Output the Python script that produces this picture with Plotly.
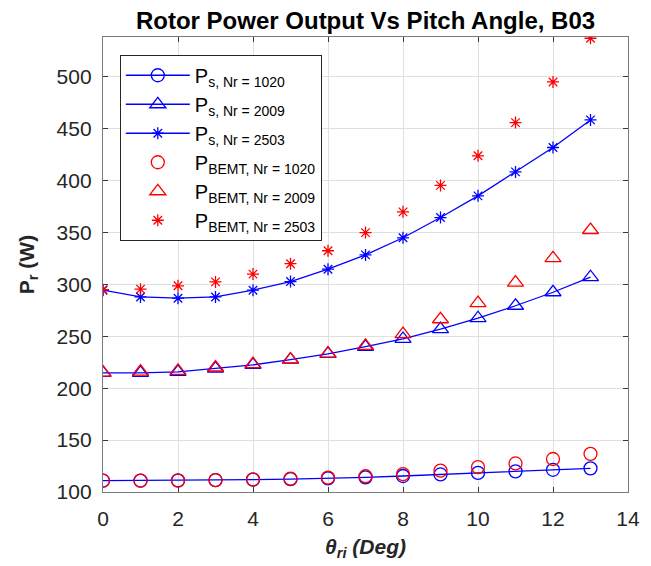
import plotly.graph_objects as go

theta = list(range(0, 14))

ps_1020 = [110.9, 111.0, 111.2, 111.5, 111.9, 112.4, 113.1, 114.1, 115.4, 116.9, 118.4, 119.9, 121.4, 122.8]
ps_2009 = [214.8, 214.8, 215.8, 219.0, 222.5, 227.5, 233.2, 240.0, 247.5, 257.0, 267.5, 279.5, 292.5, 307.0]
ps_2503 = [294.5, 288.0, 286.8, 288.0, 294.5, 302.8, 314.7, 328.5, 345.0, 364.5, 385.4, 408.5, 432.0, 458.6]

pb_1020 = [110.9, 110.9, 111.0, 111.5, 112.2, 112.9, 113.9, 115.2, 117.2, 120.6, 124.0, 127.5, 131.8, 136.8]
pb_2009 = [215.0, 216.1, 216.8, 220.0, 223.2, 227.7, 233.4, 240.8, 252.1, 266.5, 282.0, 301.8, 325.3, 352.5]
pb_2503 = [295.0, 295.5, 298.7, 302.5, 310.0, 320.0, 332.5, 350.0, 370.0, 395.5, 424.0, 456.0, 495.2, 537.3]

names_s = ["1020", "2009", "2503"]
x_ticks = [0, 2, 4, 6, 8, 10, 12, 14]
y_ticks = [100, 150, 200, 250, 300, 350, 400, 450, 500]

BLUE = "#0000ff"
RED = "#ff0000"
FONT = "Liberation Sans, Arial, sans-serif"

symbols = ["circle-open", "triangle-up-open", "asterisk-open"]
sizes = [13, 14, 10]

def lbl(sub, n):
    return "P<sub>%s, Nr = %s</sub>" % (sub, n)

fig = go.Figure()
for i, (ys, n) in enumerate(zip([ps_1020, ps_2009, ps_2503], names_s)):
    fig.add_trace(go.Scatter(
        x=theta, y=ys, mode="lines+markers", name=lbl("s", n),
        legendgroup="s%d" % i,
        line=dict(color=BLUE, width=1.3),
        marker=dict(symbol=symbols[i], size=sizes[i], color=BLUE,
                    line=dict(color=BLUE, width=1.3)),
    ))
for i, (ys, n) in enumerate(zip([pb_1020, pb_2009, pb_2503], names_s)):
    fig.add_trace(go.Scatter(
        x=theta, y=ys, mode="markers", name=lbl("BEMT", n),
        legendgroup="b%d" % i,
        marker=dict(symbol=symbols[i], size=sizes[i], color=RED,
                    line=dict(color=RED, width=1.3)),
    ))

axis_common = dict(
    showline=True, linecolor="#7a7a7a", linewidth=1.3, mirror="ticks",
    ticks="inside", ticklen=5, tickcolor="#3a3a3a", tickwidth=1,
    showgrid=True, gridcolor="#e0e0e0", gridwidth=1, zeroline=False,
    tickfont=dict(family=FONT, size=21, color="#262626"),
)

fig.update_layout(
    width=651, height=566,
    margin=dict(l=103, r=23, t=37, b=74),
    paper_bgcolor="white", plot_bgcolor="white",
    title=dict(text="<b>Rotor Power Output Vs Pitch Angle, B03</b>",
               x=0.5615, xanchor="center", y=0.963, yanchor="middle", yref="container",
               font=dict(family=FONT, size=24, color="black")),
    xaxis=dict(range=[0, 14], tickvals=x_ticks, ticklabelstandoff=8,
               title=dict(text="<b><i>θ<sub>ri</sub> (Deg)</i></b>", standoff=9,
                          font=dict(family=FONT, size=21, color="#262626")),
               **axis_common),
    yaxis=dict(range=[100, 538.5], tickvals=y_ticks, ticklabelstandoff=6,
               title=dict(text="<b>P<sub>r</sub> (W)</b>", standoff=16,
                          font=dict(family=FONT, size=21, color="#262626")),
               **axis_common),
    legend=dict(x=0.032, y=0.961, xanchor="left", yanchor="top",
                bgcolor="white", bordercolor="#262626", borderwidth=1,
                font=dict(family=FONT, size=20, color="black"),
                itemwidth=64, tracegroupgap=0, traceorder="grouped"),
    showlegend=True,
)

fig.write_html("out.html")
